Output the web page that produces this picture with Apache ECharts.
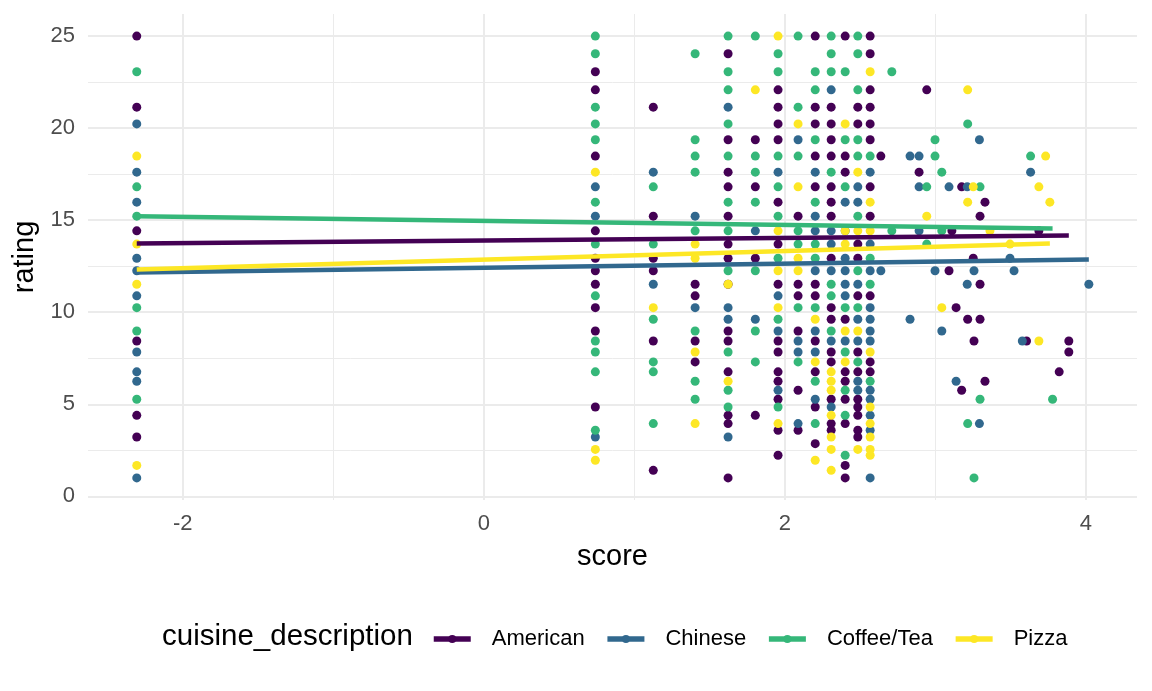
<!DOCTYPE html>
<html>
<head>
<meta charset="utf-8">
<title>rating vs score</title>
<script src="https://cdn.jsdelivr.net/npm/echarts@6/dist/echarts.min.js"></script>
<style>
  html, body { margin: 0; padding: 0; background: #fff; }
  #chart { width: 1152px; height: 691px; }
</style>
</head>
<body>
<div id="chart"></div>
<script>
// points grouped by score column: [score, [ratings...]]
const american = [
  [-2.306, [25.0, 21.14, 14.42, 8.44, 4.40, 3.22]],
  [0.741, [23.06, 22.08, 18.48, 14.42, 12.93, 12.25, 11.52, 10.25, 8.98, 4.85]],
  [1.126, [21.14, 15.22, 12.93, 12.25, 8.44, 1.41]],
  [1.404, [11.52, 10.89, 8.44, 7.30]],
  [1.623, [24.04, 19.37, 17.61, 16.81, 15.22, 13.70, 12.93, 11.52, 8.98, 8.44, 6.76, 4.40, 3.95, 1.0]],
  [1.804, [19.37, 16.81, 12.93, 4.40]],
  [1.955, [22.08, 21.14, 20.23, 19.37, 15.98, 13.70, 11.52, 8.44, 7.84, 6.76, 6.25, 5.27, 3.59, 2.23]],
  [2.088, [15.22, 11.52, 10.89, 8.98, 5.76, 3.59]],
  [2.202, [25.0, 21.14, 20.23, 18.48, 16.81, 11.52, 10.89, 8.44, 6.76, 4.85, 2.86]],
  [2.308, [21.14, 20.23, 19.37, 18.48, 16.81, 15.98, 15.22, 12.93, 10.25, 9.62, 7.84, 7.30, 5.27, 3.95, 3.59]],
  [2.401, [25.0, 18.48, 17.61, 9.62, 6.76, 6.25, 5.27, 3.95, 1.68, 1.0]],
  [2.485, [21.14, 20.23, 13.70, 12.93, 10.89, 7.84, 6.76, 5.27, 4.85, 4.40, 3.59, 3.22]],
  [2.567, [25.0, 24.04, 22.08, 21.14, 20.23, 19.37, 16.81, 15.22, 10.89, 7.30, 6.76]],
  [2.638, [18.48]],
  [2.892, [17.61]], [2.943, [22.08]], [3.091, [12.25]], [3.11, [14.42]],
  [3.138, [10.25]], [3.175, [16.81, 5.76]], [3.215, [9.62]], [3.252, [12.93]],
  [3.257, [8.44]], [3.297, [15.22, 11.52, 9.62]], [3.33, [15.98, 6.25]],
  [3.606, [8.44]], [3.688, [14.42]], [3.823, [6.76]], [3.887, [8.44, 7.84]]
];

const chinese = [
  [-2.306, [20.23, 17.61, 15.98, 12.93, 12.25, 10.89, 7.84, 6.76, 6.25, 1.0]],
  [0.741, [16.81, 15.22, 3.22]],
  [1.126, [17.61, 11.52]],
  [1.404, [15.22, 10.25]],
  [1.623, [21.14, 10.25, 9.62, 3.22]],
  [1.804, [14.42, 9.62]],
  [1.955, [17.61, 10.89, 8.98, 5.76]],
  [2.088, [19.37, 8.44, 7.84, 3.95]],
  [2.202, [17.61, 15.22, 14.42, 12.25, 8.98, 7.84, 5.27]],
  [2.308, [22.08, 14.42, 13.70, 12.25, 8.44, 4.85]],
  [2.401, [15.98, 14.42, 12.93, 12.25, 11.52, 10.89, 8.44]],
  [2.485, [16.81, 15.98, 11.52, 9.62, 8.44, 6.25, 5.76]],
  [2.567, [17.61, 13.70, 12.25, 10.25, 9.62, 8.98, 8.44, 5.76, 5.27, 4.40, 3.59, 1.0]],
  [2.638, [12.25]],
  [2.832, [18.48, 9.62]], [2.892, [18.48, 16.81, 14.42]], [2.998, [12.25]],
  [3.043, [8.98]], [3.091, [16.81]], [3.138, [6.25]], [3.212, [16.81, 11.52]],
  [3.257, [12.25]], [3.293, [19.37, 3.95]], [3.496, [12.93]], [3.523, [12.25]],
  [3.578, [8.44]], [3.633, [17.61]], [4.02, [11.52]]
];

const coffeeTea = [
  [-2.306, [23.06, 16.81, 15.22, 10.25, 8.98, 5.27]],
  [0.741, [25.0, 24.04, 21.14, 20.23, 19.37, 15.98, 13.70, 10.89, 8.44, 7.84, 6.76, 3.59]],
  [1.126, [16.81, 13.70, 9.62, 7.30, 6.76, 3.95]],
  [1.404, [24.04, 19.37, 18.48, 17.61, 14.42, 8.98, 6.25, 5.27]],
  [1.623, [25.0, 23.06, 22.08, 20.23, 18.48, 15.98, 14.42, 12.25, 7.84, 5.76, 4.85]],
  [1.804, [25.0, 18.48, 17.61, 15.98, 12.25, 8.98, 7.30]],
  [1.955, [24.04, 23.06, 18.48, 16.81, 15.22, 12.93, 9.62, 4.85]],
  [2.088, [25.0, 21.14, 18.48, 14.42, 13.70, 10.25, 7.30]],
  [2.202, [23.06, 22.08, 19.37, 15.98, 13.70, 12.93, 10.25, 6.25, 3.95]],
  [2.308, [25.0, 24.04, 23.06, 17.61, 11.52, 10.89, 8.98]],
  [2.401, [23.06, 19.37, 16.81, 10.25, 7.84, 5.76, 4.40, 2.23]],
  [2.485, [25.0, 24.04, 22.08, 19.37, 18.48, 15.22, 12.25, 10.25, 7.30]],
  [2.567, [18.48, 12.93, 11.52, 6.25]],
  [2.711, [23.06, 14.42]], [2.943, [16.81, 13.70]], [2.998, [19.37, 18.48]],
  [3.043, [17.61, 14.42]], [3.215, [20.23, 3.95]], [3.257, [1.0]],
  [3.297, [16.81, 5.27]], [3.633, [18.48]], [3.779, [5.27]]
];

const pizza = [
  [-2.306, [18.48, 13.70, 11.52, 1.68]],
  [0.741, [17.61, 2.55, 1.96]],
  [1.126, [10.25]],
  [1.404, [13.70, 12.93, 7.84, 3.95]],
  [1.623, [11.52, 6.25]],
  [1.804, [22.08]],
  [1.955, [25.0, 14.42, 12.25, 10.25, 3.95]],
  [2.088, [20.23, 16.81, 12.93, 12.25]],
  [2.202, [9.62, 7.30, 1.96]],
  [2.308, [6.76, 6.25, 5.76, 4.40, 3.22, 2.55, 1.41]],
  [2.401, [20.23, 14.42, 13.70, 8.98, 7.30]],
  [2.485, [17.61, 14.42, 8.98, 2.55]],
  [2.567, [23.06, 15.98, 14.42, 7.84, 4.85, 3.95, 3.22, 2.55, 2.23]],
  [2.943, [15.22]], [3.043, [10.25]], [3.215, [22.08, 15.98]], [3.252, [16.81]],
  [3.363, [14.42]], [3.496, [13.70]], [3.688, [16.81, 8.44]], [3.733, [18.48]],
  [3.761, [15.98]]
];

// lm fit end points
const americanFit = [[-2.306, 13.73], [3.887, 14.17]];
const chineseFit = [[-2.306, 12.16], [4.02, 12.86]];
const coffeeTeaFit = [[-2.306, 15.22], [3.779, 14.55]];
const pizzaFit = [[-2.306, 12.32], [3.761, 13.73]];

const cuisines = ["American", "Chinese", "Coffee/Tea", "Pizza"];
const colors = ["#440154", "#31688E", "#35B779", "#FDE725"];
const xTicks = [-2, 0, 2, 4];
const xMinor = [-1, 1, 3];
const yTicks = [0, 5, 10, 15, 20, 25];
const yMinor = [2.5, 7.5, 12.5, 17.5, 22.5];

const pointSets = [american, chinese, coffeeTea, pizza];
const fitSets = [americanFit, chineseFit, coffeeTeaFit, pizzaFit];

const flatten = (cols) => cols.flatMap(([x, ys]) => ys.map((y) => [x, y]));

const gridColor = "#EBEBEB";
const gridLines = [
  ...xTicks.map((v) => ({ xAxis: v, lineStyle: { width: 2 } })),
  ...xMinor.map((v) => ({ xAxis: v, lineStyle: { width: 1 } })),
  ...yTicks.map((v) => ({ yAxis: v, lineStyle: { width: 2 } })),
  ...yMinor.map((v) => ({ yAxis: v, lineStyle: { width: 1 } }))
];

const fitSeries = cuisines.map((name, i) => ({
  name,
  type: "line",
  data: fitSets[i],
  showSymbol: false,
  symbol: "circle",
  color: colors[i],
  lineStyle: { width: 4.5, color: colors[i] },
  z: 4 + i,
  silent: true
}));

const pointSeries = cuisines.map((name, i) => ({
  name,
  type: "scatter",
  data: flatten(pointSets[i]),
  symbolSize: 9,
  itemStyle: { color: colors[i], opacity: 1 },
  z: 2
}));

const chart = echarts.init(document.getElementById("chart"));

chart.setOption({
  animation: false,
  textStyle: { fontFamily: "'Liberation Sans', Arial, sans-serif" },
  title: {
    text: "cuisine_description",
    left: 162,
    top: 622,
    padding: 0,
    textStyle: { fontSize: 29.5, fontWeight: "normal", color: "#000" }
  },
  legend: {
    data: cuisines,
    left: 431,
    top: 628,
    padding: 0,
    itemWidth: 37,
    itemHeight: 10,
    itemGap: 20,
    lineStyle: { width: 5.5 },
    textStyle: { fontSize: 22, color: "#000", padding: [0, 0, 0, 16] }
  },
  grid: { left: 88, right: 15, top: 14, bottom: 191 },
  xAxis: {
    type: "value",
    min: -2.63,
    max: 4.34,
    name: "score",
    nameLocation: "middle",
    nameGap: 42,
    nameTextStyle: { fontSize: 29, color: "#000" },
    axisLine: { show: false, onZero: false },
    axisTick: { show: false },
    splitLine: { show: false },
    axisLabel: {
      fontSize: 22,
      color: "#4D4D4D",
      margin: 13,
      formatter: (v) => (xTicks.some((t) => Math.abs(t - v) < 1e-6) ? String(v) : "")
    }
  },
  yAxis: {
    type: "value",
    min: -0.2,
    max: 26.2,
    name: "rating",
    nameLocation: "middle",
    nameGap: 43,
    nameTextStyle: { fontSize: 29, color: "#000" },
    axisLine: { show: false, onZero: false },
    axisTick: { show: false },
    splitLine: { show: false },
    axisLabel: {
      fontSize: 22,
      color: "#4D4D4D",
      margin: 13,
      formatter: (v) => (yTicks.some((t) => Math.abs(t - v) < 1e-6) ? String(v) : "")
    }
  },
  series: [
    ...fitSeries,
    ...pointSeries,
    {
      name: "grid",
      type: "scatter",
      data: [],
      silent: true,
      z: 0,
      markLine: {
        silent: true,
        z: 0,
        symbol: ["none", "none"],
        label: { show: false },
        lineStyle: { color: gridColor, type: "solid" },
        emphasis: { disabled: true },
        data: gridLines
      }
    }
  ]
});
</script>
</body>
</html>
